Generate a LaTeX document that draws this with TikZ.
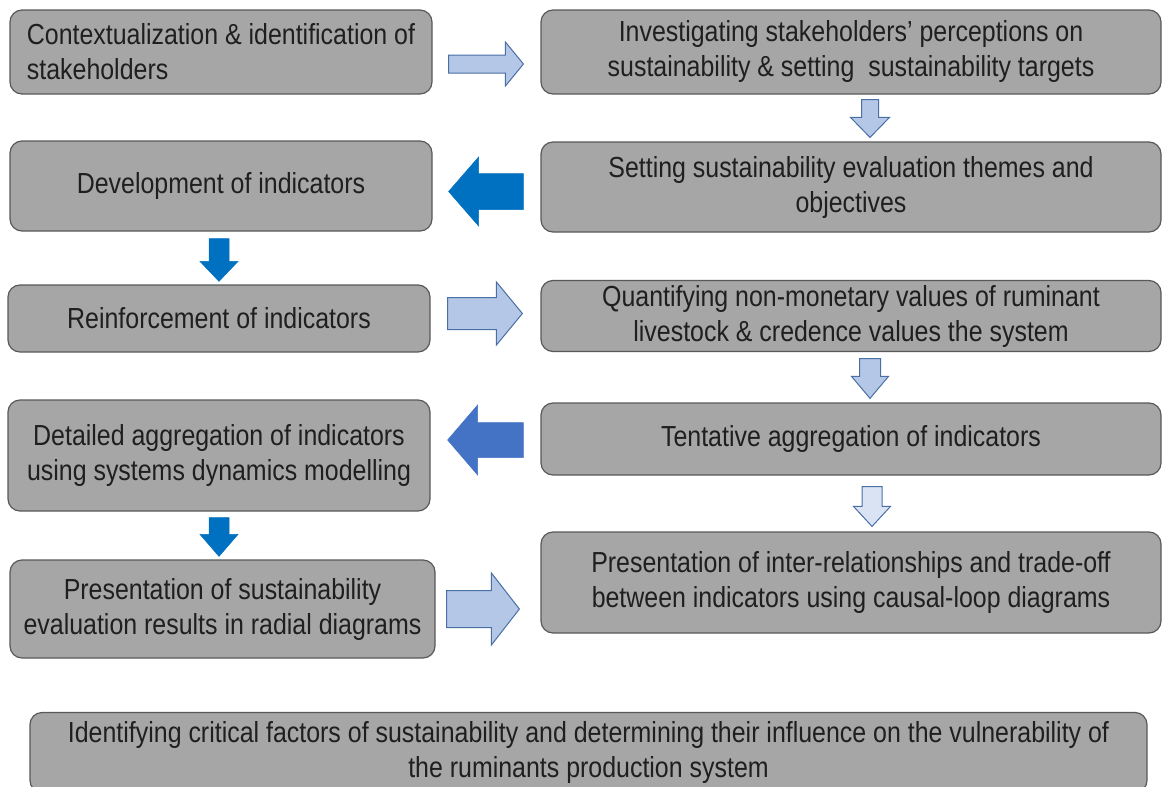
\documentclass[tikz,border=0pt]{standalone}
\usepackage{fontspec}
\setmainfont[FakeStretch=0.86]{Liberation Sans}
\usetikzlibrary{calc}
\definecolor{boxgray}{HTML}{A6A6A6}
\definecolor{paleblue}{HTML}{B4C7E7}
\definecolor{palerblue}{HTML}{DAE3F3}
\definecolor{rimblue}{HTML}{4A6FA5}
\definecolor{deepblue}{HTML}{0070C0}
\definecolor{midblue}{HTML}{4472C4}
% block arrow: style, tail, tip, shaft half width, head half width, head length
\newcommand{\blockarrow}[6]{%
  \coordinate (hb) at ($(#3)!#6pt!(#2)$);
  \draw[#1] ($(#2)!#4pt!90:(#3)$) -- ($(hb)!#4pt!90:(#3)$) -- ($(hb)!#5pt!90:(#3)$) -- (#3)
    -- ($(hb)!#5pt!-90:(#3)$) -- ($(hb)!#4pt!-90:(#3)$) -- ($(#2)!#4pt!-90:(#3)$) -- cycle;}
\begin{document}
\begin{tikzpicture}[x=1pt,y=-1pt,
  box/.style={rectangle, rounded corners=12pt, draw=black!65, fill=boxgray, line width=1.2pt,
    text=black!88, align=center, inner sep=0pt, font=\fontsize{29}{35}\selectfont},
  lightarrow/.style={fill=paleblue, draw=rimblue, line width=1pt},
  palearrow/.style={fill=palerblue, draw=rimblue, line width=1pt},
  darkarrow/.style={fill=deepblue, draw=deepblue, line width=0.5pt},
  midarrow/.style={fill=midblue, draw=midblue, line width=0.5pt}]
\useasboundingbox (0,0) rectangle (1162,787);
\clip (0,0) rectangle (1162,787);

\node[box, align=left, minimum width=422, minimum height=84] (L1) at (221,52)
  {Contextualization \& identification of\\stakeholders};
\node[box, minimum width=620, minimum height=84] (R1) at (851,52)
  {Investigating stakeholders’ perceptions on\\sustainability \& setting~ sustainability targets};
\node[box, minimum width=620, minimum height=90] (R2) at (851,187)
  {Setting sustainability evaluation themes and\\objectives};
\node[box, minimum width=422, minimum height=90] (L2) at (221,186)
  {Development of indicators};
\node[box, minimum width=422, minimum height=67] (L3) at (219,318.5)
  {Reinforcement of indicators};
\node[box, minimum width=620, minimum height=71] (R3) at (851,316)
  {Quantifying non-monetary values of ruminant\\livestock \& credence values the system};
\node[box, minimum width=620, minimum height=72] (R4) at (851,439)
  {Tentative aggregation of indicators};
\node[box, minimum width=422, minimum height=111] (L4) at (219,455.5)
  {Detailed aggregation of indicators\\using systems dynamics modelling};
\node[box, minimum width=620, minimum height=101] (R5) at (851,582.5)
  {Presentation of inter-relationships and trade-off\\between indicators using causal-loop diagrams};
\node[box, minimum width=425, minimum height=98] (L5) at (222.5,609)
  {Presentation of sustainability\\evaluation results in radial diagrams};
\node[box, minimum width=1117, minimum height=80] (B) at (588.5,752.5)
  {Identifying critical factors of sustainability and determining their influence on the vulnerability of\\the ruminants production system};

\coordinate (a1s) at ($(L1.east)+(16,12)$);
\coordinate (a1e) at ($(R1.west)+(-17,12)$);
\coordinate (a2s) at ($(R1.south)+(19,5)$);
\coordinate (a2e) at ($(R2.north)+(19,-4)$);
\coordinate (a3s) at ($(R2.west)+(-17,4.5)$);
\coordinate (a3e) at ($(L2.east)+(16,5.5)$);
\coordinate (a4s) at ($(L2.south)+(-2,7)$);
\coordinate (a4e) at ($(L3.north)+(0,-3)$);
\coordinate (a5s) at ($(L3.east)+(17,-5)$);
\coordinate (a5e) at ($(R3.west)+(-18,-2.5)$);
\coordinate (a6s) at ($(R3.south)+(19,6.5)$);
\coordinate (a6e) at ($(R4.north)+(19,-4)$);
\coordinate (a7s) at ($(R4.west)+(-17,1)$);
\coordinate (a7e) at ($(L4.east)+(17,-15.5)$);
\coordinate (a8s) at ($(R4.south)+(21,11)$);
\coordinate (a8e) at ($(R5.north)+(21,-5)$);
\coordinate (a9s) at ($(L4.south)+(0,6)$);
\coordinate (a9e) at ($(L5.north)+(-3.5,-3)$);
\coordinate (a10s) at ($(L5.east)+(11,0)$);
\coordinate (a10e) at ($(R5.west)+(-21,26.5)$);

\blockarrow{lightarrow}{a1s}{a1e}{9}{22}{18}
\blockarrow{lightarrow}{a2s}{a2e}{8.5}{19.5}{20}
\blockarrow{darkarrow}{a3s}{a3e}{18}{34.5}{30}
\blockarrow{darkarrow}{a4s}{a4e}{10}{19}{20}
\blockarrow{lightarrow}{a5s}{a5e}{16}{31.5}{26}
\blockarrow{lightarrow}{a6s}{a6e}{10.5}{18.5}{22}
\blockarrow{midarrow}{a7s}{a7e}{17.5}{35}{30}
\blockarrow{palearrow}{a8s}{a8e}{10}{18.5}{20}
\blockarrow{darkarrow}{a9s}{a9e}{10}{19}{22}
\blockarrow{lightarrow}{a10s}{a10e}{18.5}{36}{28}
\end{tikzpicture}
\end{document}
